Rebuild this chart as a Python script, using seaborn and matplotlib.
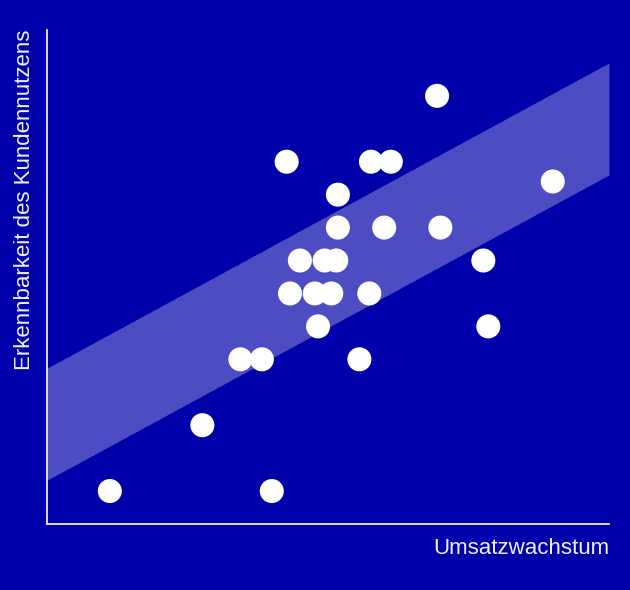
import matplotlib
matplotlib.use("Agg")
import matplotlib.pyplot as plt
import seaborn as sns
import pandas as pd

# Data
umsatz = [1.9, 6.8, 4.7, 5.85, 6.5, 9.45, 8.2, 13.35, 7.35, 8.1, 8.6, 9.75,
          7.65, 8.4, 8.75, 13.2, 8.8, 10.2, 11.9, 8.8, 7.25, 9.8, 10.4, 11.8, 15.3]
nutzen = [1, 1, 3, 5, 5, 5, 6, 6, 7, 7, 7, 7,
          8, 8, 8, 8, 9, 9, 9, 10, 11, 11, 11, 13, 10.4]

band_x = [0, 17]
band_low = [1.33, 10.6]
band_high = [4.73, 14.0]

bg = "#0000AA"

sns.set_theme(style="white")
plt.rcParams['font.family'] = ['Liberation Sans', 'DejaVu Sans']

df = pd.DataFrame({"Umsatzwachstum": umsatz, "Erkennbarkeit": nutzen})

fig = plt.figure(figsize=(6.3, 5.9), dpi=100, facecolor=bg)
ax = fig.add_axes([0.0746, 0.1119, 0.892, 0.8373])
ax.set_facecolor(bg)

ax.fill_between(band_x, band_low, band_high, color="white", alpha=0.3, linewidth=0, zorder=1)
sns.scatterplot(data=df, x="Umsatzwachstum", y="Erkennbarkeit", ax=ax,
                color="white", s=300, edgecolor="none", zorder=3)

ax.set_xlim(0, 17)
ax.set_ylim(0, 15)
ax.set_xticks([])
ax.set_yticks([])
ax.set_xlabel("")
ax.set_ylabel("")
for side in ["top", "right"]:
    ax.spines[side].set_visible(False)
for side in ["left", "bottom"]:
    ax.spines[side].set_color("white")
    ax.spines[side].set_linewidth(1.2)

fig.text(0.9667, 1 - 548 / 590, "Umsatzwachstum", color="#f2f2ff", fontsize=16,
         ha="right", va="center")
fig.text(25 / 630, 1 - 30 / 590, "Erkennbarkeit des Kundennutzens", color="#f2f2ff",
         fontsize=16, ha="center", va="top", rotation=90)

fig.savefig("out.png", dpi=100, facecolor=bg)
